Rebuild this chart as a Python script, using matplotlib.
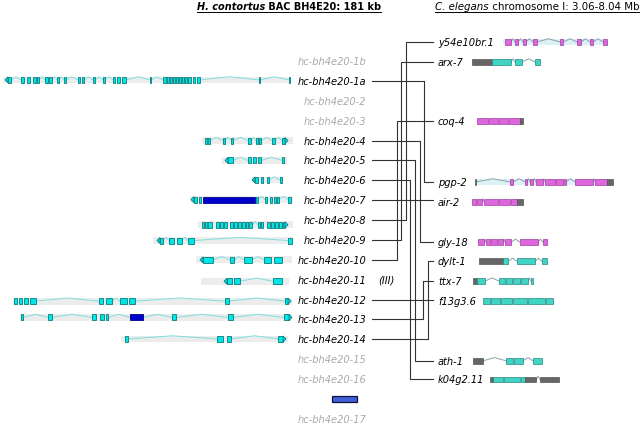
import matplotlib
matplotlib.use('Agg')
import matplotlib.pyplot as plt
from matplotlib.patches import Rectangle, Polygon

# ---- H. contortus BAC genes (left), row index = label slot ----
left_names = ['hc-bh4e20-1b', 'hc-bh4e20-1a', 'hc-bh4e20-2', 'hc-bh4e20-3',
              'hc-bh4e20-4', 'hc-bh4e20-5', 'hc-bh4e20-6', 'hc-bh4e20-7',
              'hc-bh4e20-8', 'hc-bh4e20-9', 'hc-bh4e20-10', 'hc-bh4e20-11',
              'hc-bh4e20-12', 'hc-bh4e20-13', 'hc-bh4e20-14', 'hc-bh4e20-15',
              'hc-bh4e20-16', 'hc-bh4e20-17']
left_rows = [0, 1, 2, 3, 4, 5, 6, 7, 8, 9, 10, 11, 12, 13, 14, 15, 16, 18]
left_grey = ['hc-bh4e20-1b', 'hc-bh4e20-2', 'hc-bh4e20-3',
             'hc-bh4e20-15', 'hc-bh4e20-16', 'hc-bh4e20-17']

# gene models along the BAC (track units), strand: 'L' / 'R'
track_rows = [0.95, 4, 5, 5.98, 6.97, 8.24, 9.03, 10, 11.08, 12.08, 12.9, 13.98]
track_span = [(3, 291), (202, 293), (222, 287), (252, 283), (190, 293), (198, 293),
              (153, 293), (196, 292), (201, 289), (13, 292), (20, 292), (121, 288)]
track_strand = ['L', 'R', 'L', 'L', 'L', 'R', 'L', 'L', 'L', 'R', 'R', 'R']
track_exons = [
    [(8, 11), (21, 24), (27, 30), (33, 36), (37, 39), (45, 48), (49, 52), (57, 59),
     (64, 66), (78, 80), (82, 84), (93, 95), (103, 105), (113, 115), (117, 120),
     (122, 126), (150, 151), (163, 166), (167, 169), (170, 172), (173, 175),
     (176, 178), (179, 181), (182, 184), (185, 187), (188, 191), (193, 195),
     (197, 200), (259, 260), (289, 290)],
    [(205, 207), (208, 210), (223, 225), (231, 233), (248, 251), (256, 258),
     (259, 261), (272, 275), (282, 285)],
    [(228, 233), (248, 251), (253, 256), (258, 261), (282, 284)],
    [(255, 258), (261, 263), (267, 269), (280, 282)],
    [(194, 197), (199, 201), (256, 258), (265, 267), (270, 272), (274, 276),
     (277, 279), (288, 291)],
    [(202, 204), (205, 207), (208, 212), (216, 219), (220, 223), (224, 227),
     (230, 233), (234, 237), (238, 241), (242, 245), (246, 248), (249, 252),
     (258, 260), (261, 263), (267, 270), (271, 274), (275, 278), (279, 282),
     (283, 285)],
    [(160, 163), (169, 174), (177, 182), (188, 194), (288, 292)],
    [(203, 213), (230, 234), (244, 252), (264, 271), (274, 282)],
    [(227, 232), (234, 240), (273, 282)],
    [(14, 17), (19, 22), (24, 28), (30, 36), (99, 103), (106, 112), (120, 127),
     (129, 135), (225, 229), (285, 288)],
    [(21, 23), (48, 52), (92, 96), (100, 104), (106, 108), (172, 176), (228, 233),
     (284, 289)],
    [(125, 128), (217, 223), (227, 231), (278, 283)],
]
track_blue = [[], [], [], [], [(203, 255)], [], [], [], [], [], [(130, 143)], []]
bar17 = (332, 357)
bar17_row = 17

# ---- C. elegans genes (right) ----
right_names = ['y54e10br.1', 'arx-7', 'coq-4', 'pgp-2', 'air-2', 'gly-18',
               'dylt-1', 'ttx-7', 'f13g3.6', 'ath-1', 'k04g2.11']
right_rows = [-0.96, 0.05, 3.02, 6.08, 7.08, 9.12, 10.08, 11.07, 12.07, 15.08, 16.02]
right_band = [(503, 608), None, None, (475, 612), None, None, None, None, None, None, None]
right_exons = [
    [(505, 511, 'm'), (515, 518, 'm'), (523, 526, 'm'), (533, 537, 'm'),
     (560, 563, 'm'), (577, 581, 'm'), (590, 593, 'm'), (603, 607, 'm')],
    [(472, 492, 'g'), (492, 511, 'c'), (515, 522, 'c'), (535, 540, 'c')],
    [(477, 488, 'm'), (489, 498, 'm'), (499, 508, 'm'), (509, 520, 'm'), (520, 523, 'g')],
    [(475, 476, 'g'), (510, 513, 'm'), (525, 527, 'm'), (530, 533, 'm'), (536, 543, 'm'),
     (545, 555, 'm'), (556, 563, 'm'), (564, 566, 'm'), (575, 593, 'm'),
     (595, 607, 'm'), (607, 613, 'g')],
    [(472, 476, 'm'), (477, 482, 'm'), (484, 498, 'm'), (499, 510, 'm'),
     (511, 517, 'm'), (517, 523, 'g')],
    [(478, 484, 'm'), (486, 490, 'm'), (491, 497, 'm'), (498, 503, 'm'),
     (505, 511, 'm'), (520, 538, 'm'), (543, 547, 'm')],
    [(479, 503, 'g'), (503, 508, 'c'), (517, 535, 'c'), (542, 547, 'c')],
    [(473, 477, 'g'), (477, 485, 'c'), (499, 505, 'c'), (506, 512, 'c'),
     (513, 520, 'c'), (521, 528, 'c'), (531, 533, 'c')],
    [(483, 490, 'c'), (491, 500, 'c'), (501, 512, 'c'), (513, 527, 'c'),
     (528, 545, 'c'), (546, 553, 'c')],
    [(473, 483, 'g'), (506, 513, 'c'), (514, 523, 'c'), (533, 542, 'c')],
    [(490, 493, 'g'), (493, 503, 'c'), (504, 520, 'c'), (521, 525, 'c'),
     (525, 536, 'g'), (540, 559, 'g')],
]

# ortholog links: left row -> right gene, x of the vertical (None = straight)
link_left = [1, 4, 5, 6, 7, 8, 9, 10, 12, 13, 14]
link_right = ['pgp-2', 'gly-18', 'ath-1', 'k04g2.11', 'air-2', 'y54e10br.1',
              'arx-7', 'coq-4', 'f13g3.6', 'ttx-7', 'dylt-1']
link_x = [424, 420, 415, 410, None, 406, 401, 397, None, 423, 428]

fill = {'m': '#dd66dd', 'c': '#3fd4c4', 'g': '#666666'}
edge = {'m': '#a03ca0', 'c': '#23877f', 'g': '#555555'}

fig = plt.figure(figsize=(6.42, 4.27), dpi=100)
ax = fig.add_axes([0, 0, 1, 1])
ax.set_xlim(0, 642)
ax.set_ylim(18.36, -3.12)
ax.axis('off')

H = 0.3   # exon height in rows
P = 0.16  # intron peak
FS = 7.1


def intron(x0, x1, y, color):
    ax.plot([x0, (x0 + x1) / 2, x1], [y, y - P, y], color=color, lw=0.7, zorder=2)


# left tracks
for row, span, strand, exons, blue in zip(track_rows, track_span, track_strand,
                                          track_exons, track_blue):
    ax.add_patch(Rectangle((span[0], row - 0.17), span[1] - span[0], 0.34,
                           color='#ececec', lw=0, zorder=1))
    feats = sorted(exons + blue)
    for a, b in zip(feats[:-1], feats[1:]):
        if b[0] - a[1] > 4:
            intron(a[1], b[0], row, '#7fdede')
    for a, b in exons:
        ax.add_patch(Rectangle((a, row - H / 2), b - a, H, fc='#00e6e6',
                               ec='#0b7c7c', lw=0.6, zorder=3))
    for a, b in blue:
        ax.add_patch(Rectangle((a, row - H / 2), b - a, H, fc='#0000cc',
                               ec='#000088', lw=0.6, zorder=3))
    if strand == 'L':
        x0 = feats[0][0]
        tri = [(x0, row - H / 2), (x0, row + H / 2), (x0 - 3, row)]
    else:
        x0 = feats[-1][1]
        tri = [(x0, row - H / 2), (x0, row + H / 2), (x0 + 3, row)]
    ax.add_patch(Polygon(tri, fc='#00e6e6', ec='#0b7c7c', lw=0.6, zorder=3))

ax.add_patch(Rectangle((bar17[0], bar17_row - 0.13), bar17[1] - bar17[0], 0.26,
                       fc='#4060d8', ec='#101040', lw=0.9, zorder=3))

# left labels
for name, row in zip(left_names, left_rows):
    ax.text(366, row, name, ha='right', va='center', style='italic', fontsize=FS,
            color='#aaaaaa' if name in left_grey else 'black')
ax.text(378, 11, '(III)', ha='left', va='center', style='italic', fontsize=FS)

# right genes
for name, row, band, exons in zip(right_names, right_rows, right_band, right_exons):
    ax.text(438, row, name, ha='left', va='center', style='italic', fontsize=FS)
    if band:
        ax.add_patch(Rectangle((band[0], row - 0.16), band[1] - band[0], 0.32,
                               color='#dcf1f5', lw=0, zorder=1))
    for a, b in zip(exons[:-1], exons[1:]):
        if b[0] - a[1] > 1:
            intron(a[1], b[0], row, '#8aa0a8')
    for a, b, k in exons:
        ax.add_patch(Rectangle((a, row - H / 2), b - a, H, fc=fill[k], ec=edge[k],
                               lw=0.5, zorder=3))

# links
for lr, rn, xv in zip(link_left, link_right, link_x):
    rr = right_rows[right_names.index(rn)]
    if xv is None:
        ax.plot([372, 433], [lr, lr], color='#333333', lw=0.8)
    else:
        ax.plot([372, xv, xv, 433], [lr, lr, rr, rr], color='#333333', lw=0.8)

# titles with underline
fig.canvas.draw()
renderer = fig.canvas.get_renderer()
inv = ax.transData.inverted()


def title(x, parts, size, weight):
    x_start = x
    for txt, st in parts:
        t = ax.text(x, -2.77, txt, ha='left', va='center', style=st, fontsize=size,
                    fontweight=weight)
        bb = t.get_window_extent(renderer)
        x = inv.transform((bb.x1, bb.y0))[0]
    ax.plot([x_start, x], [-2.45, -2.45], color='black', lw=0.7)


title(197, [('H. contortus', 'italic'), (' BAC BH4E20: 181 kb', 'normal')], 7.0, 'bold')
title(435, [('C. elegans', 'italic'), (' chromosome I: 3.06-8.04 Mb', 'normal')], 7.4, 'normal')

fig.savefig('out.png', dpi=100)
